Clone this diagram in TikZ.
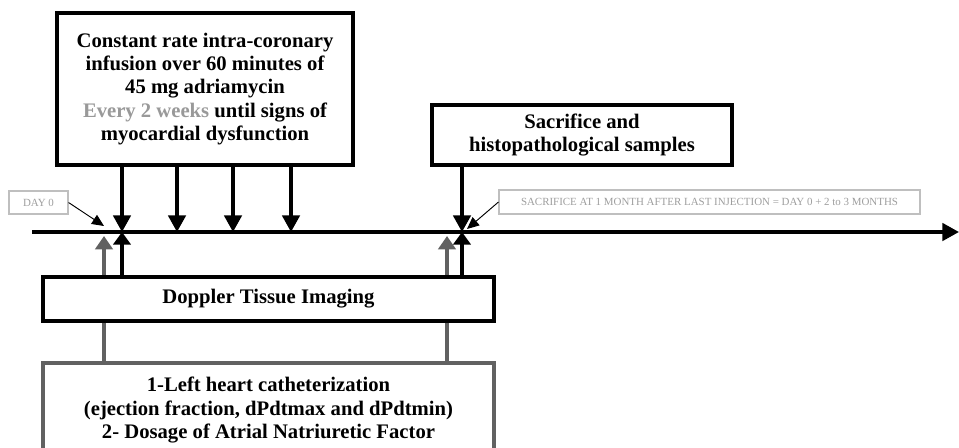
\documentclass[tikz,border=0pt]{standalone}
\usepackage{fontspec}
\setmainfont{Liberation Serif}
\usetikzlibrary{arrows.meta}

\begin{document}
\begin{tikzpicture}[x=0.75pt,y=-0.75pt]
  % Define colors
  \colorlet{tagline}{black!25}
  \colorlet{tagtext}{black!38}
  \colorlet{dosegray}{black!62}
  \colorlet{weekgray}{black!40}

  % Styles
  \tikzset{
    box/.style={draw, line width=2.8pt, fill=white, align=center, inner sep=0pt,
      font=\bfseries\fontsize{15.5}{17.6}\selectfont},
    tag/.style={draw=tagline, line width=0.8pt, fill=white, text=tagtext, inner sep=0pt,
      font=\fontsize{8.2}{9}\selectfont},
    down/.style={line width=2.8pt, -{Triangle[width=13pt,length=12.5pt]}},
    up/.style={line width=2.8pt, -{Triangle[width=13pt,length=9.5pt]}},
    grayup/.style={draw=dosegray, line width=2.8pt, -{Triangle[width=13pt,length=10pt,fill=dosegray]}},
    pointer/.style={line width=0.7pt, -{Triangle[width=8pt,length=9pt]}}
  }

  \clip (0,0) rectangle (959,447);

  % Time axis
  \coordinate (a0) at (32,232);
  \coordinate (a1) at (959,232);
  \draw[down] (a0) -- (a1);

  % Injection and sampling times on the axis
  \coordinate (t1) at (122,232);
  \coordinate (t2) at (177,232);
  \coordinate (t3) at (233,232);
  \coordinate (t4) at (291,232);
  \coordinate (t5) at (462,232);
  \coordinate (g1) at (104,236);
  \coordinate (g2) at (447,236);

  % Boxes above the axis
  \node[box, minimum width=222pt, minimum height=114pt] (inf) at (205,89)
    {Constant rate intra-coronary\\infusion over 60 minutes of\\45 mg adriamycin\\
     \textcolor{weekgray}{Every 2 weeks} until signs of\\myocardial dysfunction};
  \node[box, minimum width=225pt, minimum height=45pt] (sac) at (582,135)
    {Sacrifice and\\histopathological samples};

  % Injections
  \foreach \t in {t1,t2,t3,t4}
    \draw[down] (\t |- inf.south) -- (\t);
  \draw[down] (t5 |- sac.south) -- (t5);

  % Boxes below the axis
  \node[box, draw=dosegray, minimum width=338.25pt, minimum height=70.5pt] (dose) at (268.5,410)
    {1-Left heart catheterization\\(ejection fraction, dPdtmax and dPdtmin)\\2- Dosage of Atrial Natriuretic Factor};
  \draw[grayup] (g1 |- dose.north) -- (g1);
  \draw[grayup] (g2 |- dose.north) -- (g2);

  \node[box, minimum width=338.25pt, minimum height=33pt] (dti) at (268.5,299)
    {Doppler Tissue Imaging};
  \draw[up] (t1 |- dti.north) -- (t1);
  \draw[up] (t5 |- dti.north) -- (t5);

  % Time labels
  \node[tag, minimum width=44.25pt, minimum height=17.25pt] (day0) at (38.5,202.5) {DAY 0};
  \node[tag, minimum width=315.75pt, minimum height=18pt] (end) at (709.5,202)
    {SACRIFICE AT 1 MONTH AFTER LAST INJECTION = DAY 0 + 2 to 3 MONTHS};
  \coordinate (p0) at (104,226);
  \coordinate (p1) at (467,229);
  \draw[pointer] (day0.east) -- (p0);
  \draw[pointer] (end.west) -- (p1);
\end{tikzpicture}
\end{document}
